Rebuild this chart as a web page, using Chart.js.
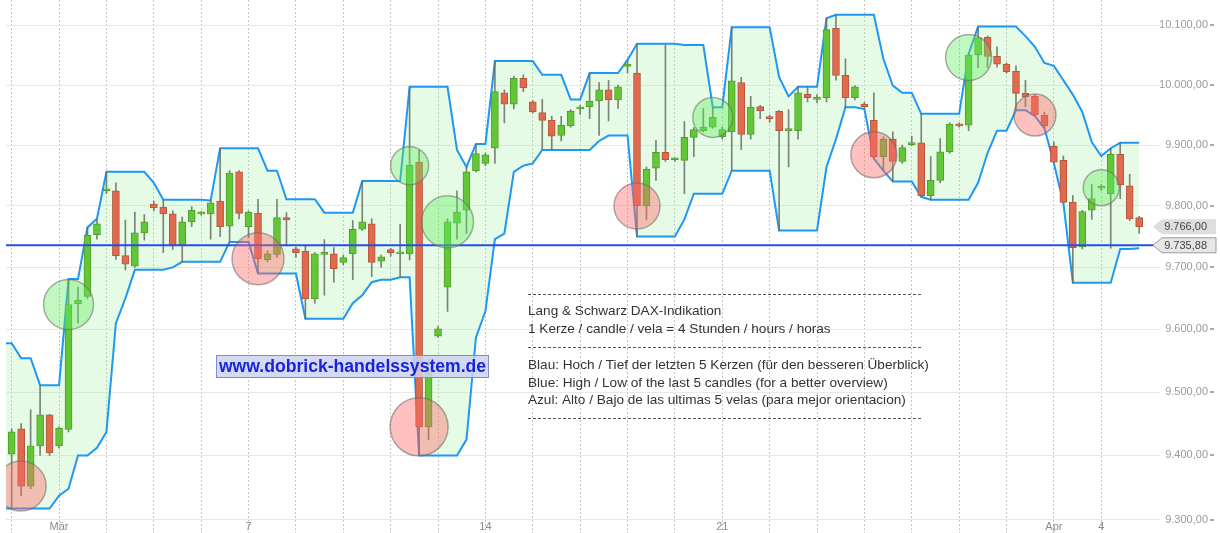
<!DOCTYPE html>
<html><head><meta charset="utf-8">
<script src="https://cdn.jsdelivr.net/npm/chart.js@4.4.0/dist/chart.umd.min.js"></script>
<style>html,body{margin:0;padding:0;background:#fff;overflow:hidden}#wrap{position:relative;width:1220px;height:533px}</style>
</head><body><div id="wrap"><canvas id="c" width="1220" height="533"></canvas></div>
<script>
// ---- data (4-hour candles, index 0 = first visible candle) ----
const opens = [9402,9442,9352,9415,9464,9415,9441,9641,9653,9753,
9825,9825,9719,9702,9756,9803,9798,9787,9736,9774,
9787,9787,9808,9767,9856,9766,9788,9712,9721,9781,
9730,9726,9649,9721,9722,9708,9722,9762,9771,9710,
9729,9722,9722,9872,9445,9589,9668,9772,9793,9858,
9870,9895,9987,9968,10011,9972,9954,9941,9916,9932,
9960,9964,9974,9992,9975,10031,10020,9800,9862,9888,
9876,9875,9913,9924,9930,9914,9922,10004,9918,9964,
9946,9956,9924,9924,9985,9976,9979,10095,10016,9979,
9968,9941,9881,9910,9873,9901,9904,9817,9842,9889,
9935,9933,10051,10080,10048,10035,10023,9986,9981,9950,
9898,9875,9806,9733,9793,9829,9820,9885,9833,9781];
const highs = [9442,9450,9472,9510,9465,9445,9681,9668,9765,9779,
9856,9838,9777,9790,9786,9808,9810,9792,9782,9799,
9791,9809,9895,9858,9858,9792,9811,9727,9811,9789,
9733,9736,9724,9745,9732,9720,9776,9841,9779,9720,
9731,9770,9997,9892,9552,9605,9779,9825,9864,9902,
9887,10040,9992,10015,10017,9974,9976,9948,9948,9959,
9966,10020,10004,10008,10000,10042,10069,9864,9908,10067,
9879,9939,9929,9961,9963,9930,10097,10013,9981,9966,
9950,9958,9959,9997,9997,9984,10112,10118,10044,9999,
9971,9987,9914,9922,9900,9915,9952,9881,9911,9937,
9937,10052,10098,10082,10064,10037,10032,10008,9984,9955,
9905,9882,9817,9793,9835,9835,9895,9904,9852,9783];
const lows = [9317,9337,9348,9400,9400,9412,9437,9610,9650,9746,
9820,9713,9696,9700,9744,9792,9724,9729,9709,9766,
9785,9746,9750,9741,9779,9748,9690,9709,9716,9735,
9716,9617,9642,9655,9676,9704,9680,9760,9685,9700,
9718,9684,9712,9400,9425,9587,9629,9746,9755,9856,
9866,9870,9937,9960,9989,9953,9892,9892,9907,9930,
9951,9944,9916,9940,9961,10020,9750,9778,9842,9873,
9873,9820,9881,9922,9928,9910,9858,9893,9910,9944,
9938,9760,9864,9910,9972,9970,9972,10008,9963,9975,
9960,9878,9858,9840,9870,9899,9815,9810,9838,9887,
9930,9924,10029,10029,10030,10020,9958,9964,9948,9928,
9870,9805,9675,9730,9778,9825,9731,9812,9776,9755];
const closes = [9437,9352,9415,9464,9404,9443,9640,9647,9752,9771,
9826,9719,9705,9756,9774,9797,9787,9735,9774,9793,
9789,9805,9766,9854,9788,9790,9714,9722,9781,9777,
9724,9649,9722,9723,9698,9716,9762,9774,9708,9717,
9724,9722,9867,9445,9534,9601,9774,9790,9856,9886,
9884,9989,9968,10011,9995,9955,9941,9915,9933,9956,
9962,9973,9992,9975,9997,10035,9800,9860,9888,9876,
9877,9913,9926,9930,9946,9926,10007,9918,9963,9957,
9944,9924,9926,9987,9979,9979,10093,10016,9979,9997,
9964,9881,9910,9873,9896,9902,9817,9842,9889,9935,
9932,10050,10079,10048,10035,10022,9986,9980,9950,9932,
9872,9806,9732,9791,9812,9831,9885,9835,9779,9766];
// Blue channel: high / low of the last 5 candles (first value belongs to the candle before index 0)
const upperBand = [9578,9578,9554,9554,9511,9511,9511,9681,9681,9765,9779,
9856,9856,9856,9856,9856,9838,9810,9810,9810,9810,
9810,9809,9895,9895,9895,9895,9895,9858,9858,9811,
9811,9811,9811,9789,9789,9789,9789,9841,9841,9841,
9841,9841,9997,9997,9997,9997,9997,9892,9864,9902,
9902,10040,10040,10040,10040,10040,10017,10017,10017,9976,
9976,10020,10020,10020,10020,10042,10069,10069,10069,10069,
10069,10067,10067,10067,9963,9963,10097,10097,10097,10097,
10097,10013,9981,9997,9997,9997,10112,10118,10118,10118,
10118,10118,10044,9999,9987,9987,9952,9952,9952,9952,
9952,10052,10098,10098,10098,10098,10098,10082,10064,10037,
10032,10008,9984,9955,9905,9882,9895,9904,9904,9904];
const lowerBand = [9317,9317,9317,9317,9317,9317,9337,9348,9400,9400,9412,
9437,9610,9650,9696,9696,9696,9696,9700,9709,9709,
9709,9709,9709,9741,9741,9741,9690,9690,9690,9690,
9690,9617,9617,9617,9617,9617,9642,9655,9676,9680,
9680,9684,9684,9400,9400,9400,9400,9400,9425,9587,
9629,9746,9755,9856,9866,9870,9892,9892,9892,9892,
9892,9892,9907,9916,9916,9916,9750,9750,9750,9750,
9750,9778,9820,9820,9820,9820,9858,9858,9858,9858,
9858,9760,9760,9760,9760,9760,9864,9910,9963,9963,
9960,9878,9858,9840,9840,9840,9815,9810,9810,9810,
9810,9810,9838,9887,9924,9924,9958,9958,9948,9928,
9870,9805,9675,9675,9675,9675,9675,9730,9730,9731];
const lastPrice = 9766.00;
const markerLevel = 9735.88;
const buyIdx = [6,42,46,74,101,115];
const buyY = [9640,9866,9774,9946,10046,9830];
const sellIdx = [1,26,43,66,91,108];
const sellY = [9352,9714,9445,9800,9884,9950];
const dayStartIdx = [0,5,10,15,20,25,30,35,40,45,50,55,60,65,70,75,80,85,90,95,100,105,110,115];
const dayLabels = {5:'Mär',25:'7',50:'14',75:'21',110:'Apr',115:'4'};
const yTicks = [9300,9400,9500,9600,9700,9800,9900,10000,10100];

// ---- styles ----
const FONT = "'Liberation Sans', Arial, sans-serif";
const buyR = [25,19,26,20,23,18];
const sellR = [25,26,29,23,23,21];
const GREEN = '#63c637', RED = '#e06a4e';
const GREEN_B = '#4f9e2c', RED_B = '#b5573f';

function fmt(v){
  const p = Number(v).toFixed(2).split('.');
  return p[0].replace(/\B(?=(\d{3})+(?!\d))/g,'.') + ',' + p[1];
}

const idx = opens.map((_, i) => i);
const isUp = idx.map(i => closes[i] >= opens[i]);

Chart.defaults.font.family = FONT;

const overlay = {
  id: 'overlay',
  afterDatasetsDraw(chart){
    const ctx = chart.ctx;
    ctx.save();
    // annotation block
    ctx.strokeStyle = '#555'; ctx.lineWidth = 1; ctx.setLineDash([3,2]);
    [294.5, 347.5, 418.5].forEach(y => { ctx.beginPath(); ctx.moveTo(528, y); ctx.lineTo(922, y); ctx.stroke(); });
    ctx.setLineDash([]);
    ctx.fillStyle = '#333'; ctx.font = '13.6px ' + FONT; ctx.textBaseline = 'middle'; ctx.textAlign = 'left';
    const lines = [
      ['Lang & Schwarz DAX-Indikation', 311],
      ['1 Kerze / candle / vela = 4 Stunden / hours / horas', 329],
      ['Blau: Hoch / Tief der letzten 5 Kerzen (für den besseren Überblick)', 365],
      ['Blue: High / Low of the last 5 candles (for a better overview)', 383],
      ['Azul: Alto / Bajo de las ultimas 5 velas (para mejor orientacion)', 400]
    ];
    lines.forEach(([t, y]) => ctx.fillText(t, 528, y));
    // watermark
    ctx.fillStyle = 'rgba(205,210,242,0.85)'; ctx.strokeStyle = '#7f8ccc';
    ctx.fillRect(216.5, 355.5, 272, 22); ctx.strokeRect(216.5, 355.5, 272, 22);
    ctx.fillStyle = '#1a22dc'; ctx.font = 'bold 17.6px ' + FONT; ctx.textAlign = 'center';
    ctx.fillText('www.dobrick-handelssystem.de', 352.5, 367);
    ctx.restore();
  },
  afterDraw(chart){
    const ctx = chart.ctx, ys = chart.scales.y;
    ctx.save();
    ctx.fillStyle = '#555';
    yTicks.forEach(v => { const y = Math.round(ys.getPixelForValue(v)); ctx.fillRect(1210, y - 0.5, 4, 1); });
    function tag(v, fill, stroke){
      const y = ys.getPixelForValue(v);
      ctx.beginPath();
      ctx.moveTo(1153, y); ctx.lineTo(1162, y - 7.5); ctx.lineTo(1216, y - 7.5); ctx.lineTo(1216, y + 7.5); ctx.lineTo(1162, y + 7.5); ctx.closePath();
      ctx.fillStyle = fill; ctx.fill();
      if (stroke) { ctx.strokeStyle = stroke; ctx.lineWidth = 1; ctx.stroke(); }
      ctx.fillStyle = '#444'; ctx.font = '11px ' + FONT; ctx.textAlign = 'right'; ctx.textBaseline = 'middle';
      ctx.fillText(fmt(v), 1207, y + 0.5);
    }
    tag(lastPrice, '#dedede', null);
    tag(markerLevel, '#e6e6e6', '#9a9a9a');
    ctx.restore();
  }
};

new Chart(document.getElementById('c'), {
  type: 'bar',
  data: {
    datasets: [
      { type: 'line', label: 'Hoch 5', data: upperBand.map((v, k) => ({x: k - 1, y: v})),
        borderColor: '#1e98f4', borderWidth: 2, pointRadius: 0, tension: 0,
        fill: '+1', backgroundColor: 'rgba(150,240,150,0.25)', order: 6 },
      { type: 'line', label: 'Tief 5', data: lowerBand.map((v, k) => ({x: k - 1, y: v})),
        borderColor: '#1e98f4', borderWidth: 2, pointRadius: 0, tension: 0, fill: false, order: 5 },
      { type: 'bar', label: 'Docht', data: idx.map(i => ({x: i, y: [lows[i], highs[i]]})),
        backgroundColor: 'rgba(105,110,100,0.85)', borderWidth: 0, barThickness: 1, grouped: false, order: 4 },
      { type: 'bar', label: 'Kerze', data: idx.map(i => ({x: i, y: [opens[i], closes[i]]})),
        backgroundColor: idx.map(i => isUp[i] ? GREEN : RED),
        borderColor: idx.map(i => isUp[i] ? GREEN_B : RED_B),
        borderWidth: 1, borderSkipped: false, barThickness: 7, minBarLength: 2, grouped: false, order: 3 },
      { type: 'line', label: 'Marke', data: [{x: -0.6, y: markerLevel}, {x: 120.5, y: markerLevel}],
        borderColor: '#2b4be6', borderWidth: 2, pointRadius: 0, fill: false, order: 2 },
      { type: 'scatter', label: 'Verkauf', data: sellIdx.map((x, k) => ({x, y: sellY[k]})),
        pointRadius: sellR, backgroundColor: 'rgba(255,105,105,0.42)', borderColor: 'rgba(105,105,105,0.55)',
        borderWidth: 1.5, order: 1 },
      { type: 'scatter', label: 'Kauf', data: buyIdx.map((x, k) => ({x, y: buyY[k]})),
        pointRadius: buyR, backgroundColor: 'rgba(100,235,100,0.40)', borderColor: 'rgba(105,105,105,0.55)',
        borderWidth: 1.5, order: 0 }
    ]
  },
  options: {
    responsive: false, animation: false, devicePixelRatio: 1,
    layout: { autoPadding: false, padding: { left: 6, right: 12, top: 0, bottom: 0 } },
    plugins: { legend: { display: false }, tooltip: { enabled: false } },
    scales: {
      x: {
        type: 'linear', min: -0.6, max: 121.2, offset: false,
        afterBuildTicks: s => { s.ticks = dayStartIdx.map(v => ({value: v})); },
        afterFit: s => { s.height = 13.5; s.paddingLeft = 0; s.paddingRight = 0; s.paddingTop = 0; s.paddingBottom = 0; },
        ticks: { autoSkip: false, maxRotation: 0, padding: -13, color: '#8c8c8c', font: { size: 11 },
                 callback: v => dayLabels[v] || '' },
        grid: { offset: false, color: '#c4c4c4', lineWidth: 1, drawTicks: true, tickLength: 14, tickColor: '#c4c4c4',
                tickBorderDash: [2, 2] },
        border: { display: false, dash: [2, 2] }
      },
      y: {
        type: 'logarithmic', position: 'right', min: 9300, max: 10143,
        afterBuildTicks: s => { s.ticks = yTicks.map(v => ({value: v})); },
        afterFit: s => { s.width = 48; s.paddingTop = 0; s.paddingBottom = 0; s.paddingLeft = 0; s.paddingRight = 0; },
        ticks: { autoSkip: false, padding: 0, crossAlign: 'far', color: '#9a9a9a', font: { size: 11 },
                 callback: v => fmt(v) },
        grid: { color: '#e8e8e8', lineWidth: 1, drawTicks: false },
        border: { display: false }
      }
    }
  },
  plugins: [overlay]
});
</script></body></html>
